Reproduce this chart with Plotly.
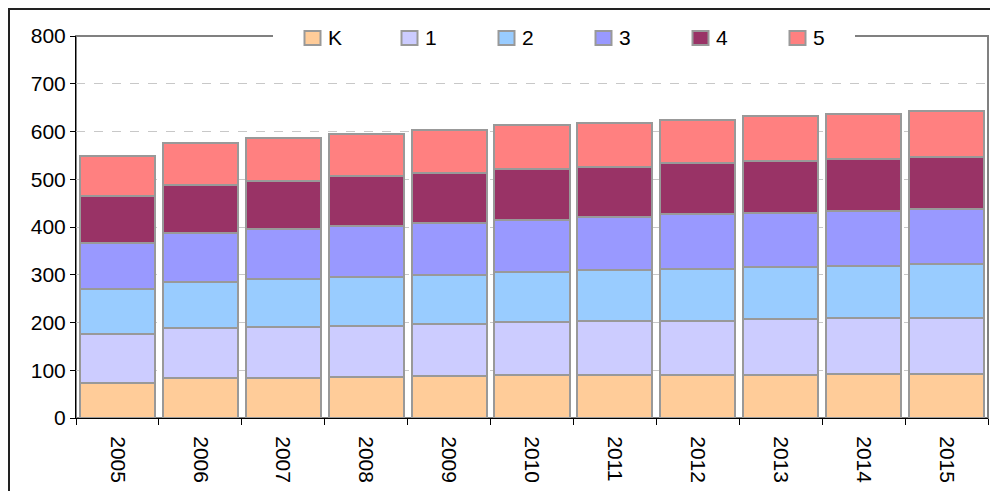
import plotly.graph_objects as go

# school enrolment by grade, stacked per year
years = ['2005', '2006', '2007', '2008', '2009', '2010', '2011', '2012', '2013', '2014', '2015']
grade_names = ['K', '1', '2', '3', '4', '5']
grade_k = [73, 83, 84, 86, 87, 90, 90, 90, 90, 92, 92]
grade_1 = [102, 105, 106, 107, 110, 111, 113, 114, 117, 117, 118]
grade_2 = [95, 96, 101, 103, 102, 105, 106, 109, 109, 110, 112]
grade_3 = [96, 104, 104, 106, 109, 109, 112, 114, 114, 115, 116]
grade_4 = [98, 100, 101, 104, 106, 106, 105, 106, 109, 109, 109]
grade_5 = [85, 87, 90, 89, 89, 92, 92, 91, 93, 94, 95]

series = [grade_k, grade_1, grade_2, grade_3, grade_4, grade_5]
colors = ['#FFCC99', '#CCCCFF', '#99CCFF', '#9999FF', '#993366', '#FF8080']

font = dict(family='Liberation Sans, Arial, sans-serif', size=21, color='black')

fig = go.Figure()
for name, vals, col in zip(grade_names, series, colors):
    fig.add_trace(go.Bar(
        x=years, y=vals, name=name,
        marker=dict(color=col, line=dict(color='#999999', width=2))
    ))

# the page body has an 8px margin, so margins are shifted to compensate
L, T, PW, PH = 68, 28, 912, 382
fig.update_layout(
    width=998, height=491,
    margin=dict(l=L, r=998 - L - PW, t=T, b=491 - T - PH),
    barmode='stack',
    bargap=0.095,
    plot_bgcolor='white',
    paper_bgcolor='white',
    font=font,
    showlegend=False,
)

fig.update_xaxes(
    type='category',
    tickangle=90,
    tickson='boundaries',
    ticks='outside', ticklen=6, tickcolor='black',
    ticklabelstandoff=13,
    showline=True, linecolor='black', linewidth=1,
    showgrid=False,
)
fig.update_yaxes(
    range=[0, 800], dtick=100,
    ticks='outside', ticklen=5, tickcolor='black',
    showline=True, linecolor='black', linewidth=1,
    gridcolor='#C8C8C8', griddash='dash', gridwidth=1,
    zeroline=False,
)

def px(fx):  # figure pixel -> paper x
    return (fx - L) / PW

def py(fy):  # figure pixel -> paper y
    return (T + PH - fy) / PH

# plot area frame (grey top/right), gap behind the legend, outer chart border
fig.add_shape(type='rect', xref='paper', yref='paper', x0=0, x1=1, y0=0, y1=1,
              line=dict(color='#808080', width=2), layer='between')
fig.add_shape(type='rect', xref='paper', yref='paper', x0=px(265), x1=px(847), y0=py(T + 4), y1=py(T - 4),
              fillcolor='white', line=dict(width=0), layer='between')
fig.add_shape(type='rect', xref='paper', yref='paper', x0=px(1), x1=1.05, y0=-0.3, y1=py(1),
              line=dict(color='#222222', width=2), layer='above')

# legend drawn by hand: Excel-style row centred on the top frame line
for i, (name, col) in enumerate(zip(grade_names, colors)):
    x0 = 296.5 + 97 * i
    fig.add_shape(type='rect', xref='paper', yref='paper',
                  x0=px(x0), x1=px(x0 + 16), y0=py(37), y1=py(23),
                  fillcolor=col, line=dict(color='#999999', width=2), layer='above')
    fig.add_annotation(text=name, xref='paper', yref='paper', x=px(x0 + 21), y=py(30),
                       xanchor='left', yanchor='middle', showarrow=False, font=font)

fig.write_html("out.html")
